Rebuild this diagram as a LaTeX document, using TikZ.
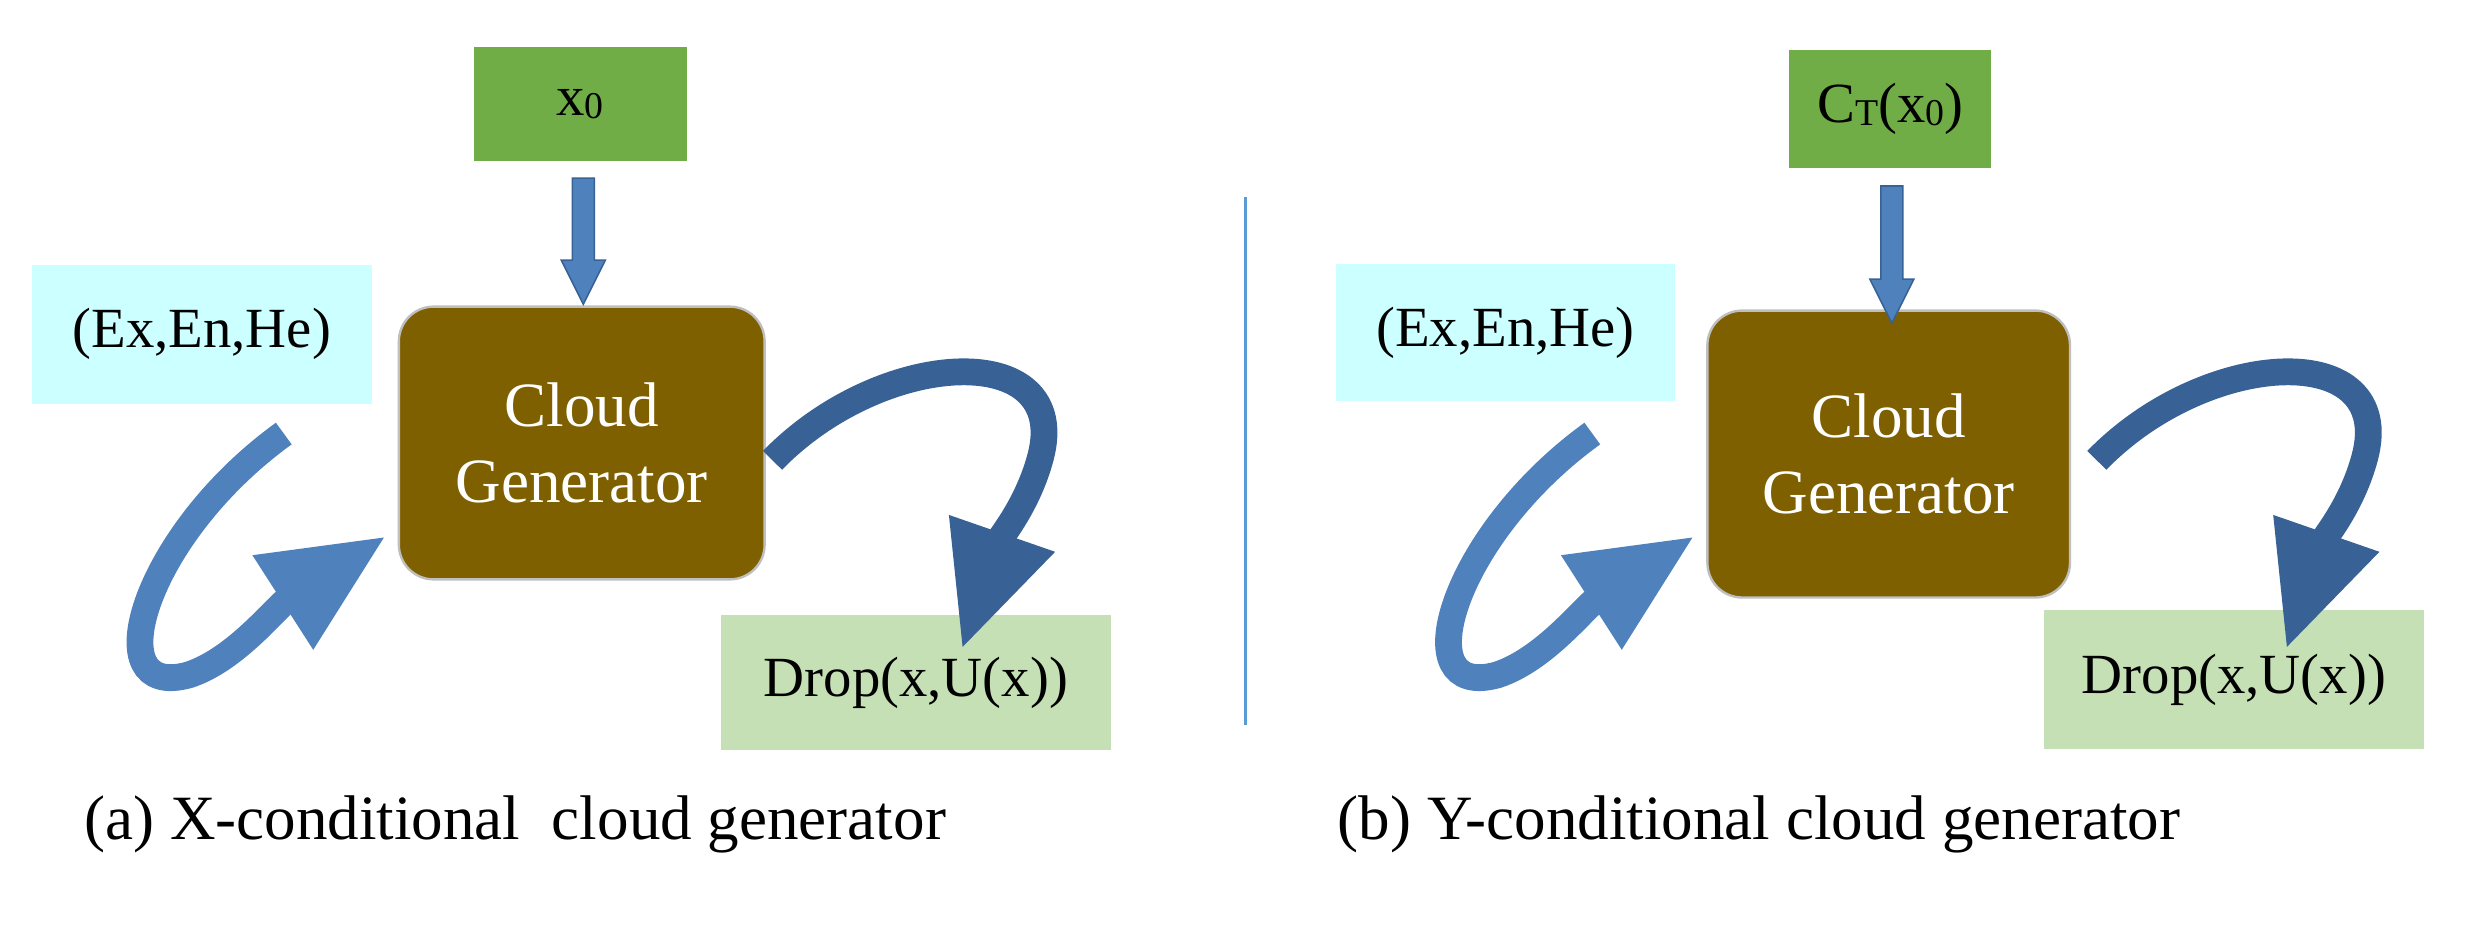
\documentclass[tikz,border=0pt]{standalone}
\usepackage{fontspec}
\setmainfont{Liberation Serif}
\usetikzlibrary{arrows.meta}
\definecolor{gbox}{RGB}{112,173,71}
\definecolor{cbox}{RGB}{204,255,255}
\definecolor{dbox}{RGB}{197,224,180}
\definecolor{brown}{RGB}{127,96,0}
\definecolor{ablue}{RGB}{79,129,189}
\definecolor{adark}{RGB}{56,98,150}
\definecolor{vline}{RGB}{91,155,213}
\tikzset{
  lbl/.style={font=\fontsize{36}{40}\selectfont},
  capt/.style={font=\fontsize{40}{44}\selectfont},
  gen/.style={draw=black!25,line width=1.5pt,fill=brown,rounded corners=22pt,text=white,align=center,font=\fontsize{40}{48}\selectfont},
  curv/.style={draw=ablue,line width=17pt,-{Triangle[width=66pt,length=78pt]}},
  curvr/.style={draw=adark,line width=17pt,-{Triangle[width=66pt,length=78pt]}},
  downarr/.style={draw=adark,fill=ablue,line width=1pt}
}
\begin{document}
\begin{tikzpicture}[x=1pt,y=-1pt]
\useasboundingbox (0,0) rectangle (1568,588);
% left panel
\node[fill=gbox,minimum width=135pt,minimum height=72pt,lbl] (x0) at (368,66) {x\raisebox{-2pt}{\fontsize{24}{24}\selectfont 0}};
\node[fill=cbox,minimum width=216pt,minimum height=88pt,lbl] (ex1) at (128,212) {(Ex,En,He)};
\node[gen,minimum width=232pt,minimum height=173pt] (cg1) at (369,281) {Cloud\\Generator};
\node[fill=dbox,minimum width=247pt,minimum height=86pt,lbl] (dr1) at (581,433) {Drop(x,U(x))};
\draw[downarr] (363,113) -- (377,113) -- (377,165) -- (384,165) -- (370,193) -- (356,165) -- (363,165) -- cycle;
\coordinate (l1s) at (180,275); \coordinate (l1e) at (245,340);
\draw[curv] (l1s) .. controls (90,340) and (60,445) .. (120,428) .. controls (150,418) and (175,385) .. (l1e);
\coordinate (r1s) at (490,292); \coordinate (r1e) at (610,412);
\draw[curvr] (r1s) .. controls (560,220) and (680,215) .. (660,290) .. controls (652,320) and (635,340) .. (r1e);
\node[capt,anchor=west] (cap1) at (50,523) {(a) X-conditional\ \ cloud generator};
% divider
\coordinate (v1) at (790,125); \coordinate (v2) at (790,460);
\draw[vline,line width=2.5pt] (v1) -- (v2);
% right panel
\node[fill=gbox,minimum width=128pt,minimum height=75pt,lbl] (ct) at (1199,69) {C\raisebox{-2pt}{\fontsize{24}{24}\selectfont T}(x\raisebox{-2pt}{\fontsize{24}{24}\selectfont 0})};
\node[fill=cbox,minimum width=215pt,minimum height=87pt,lbl] (ex2) at (955,211) {(Ex,En,He)};
\node[gen,minimum width=230pt,minimum height=182pt] (cg2) at (1198,288) {Cloud\\Generator};
\node[fill=dbox,minimum width=241pt,minimum height=88pt,lbl] (dr2) at (1417,431) {Drop(x,U(x))};
\draw[downarr] (1193,118) -- (1207,118) -- (1207,177) -- (1214,177) -- (1200,205) -- (1186,177) -- (1193,177) -- cycle;
\coordinate (l2s) at (1010,275); \coordinate (l2e) at (1075,340);
\draw[curv] (l2s) .. controls (920,340) and (890,445) .. (950,428) .. controls (980,418) and (1005,385) .. (l2e);
\coordinate (r2s) at (1330,292); \coordinate (r2e) at (1450,412);
\draw[curvr] (r2s) .. controls (1400,220) and (1520,215) .. (1500,290) .. controls (1492,320) and (1475,340) .. (r2e);
\node[capt,anchor=west] (cap2) at (845,523) {(b) Y-conditional cloud generator};
\end{tikzpicture}
\end{document}
